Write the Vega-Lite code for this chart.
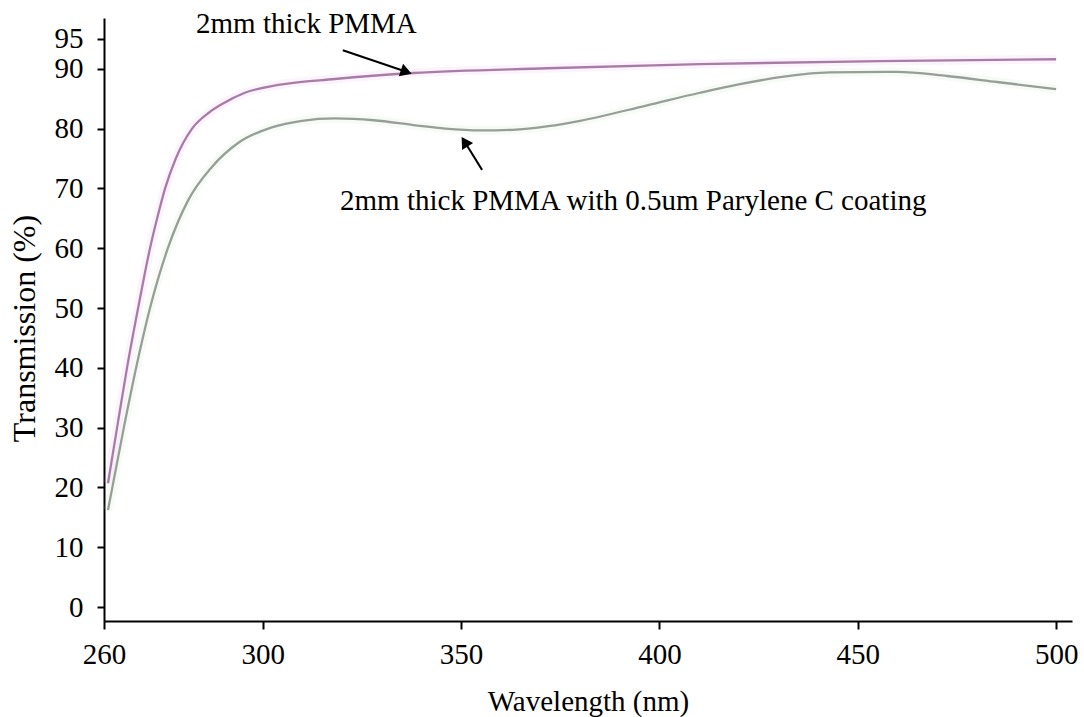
{
  "$schema": "https://vega.github.io/schema/vega-lite/v6.json",
  "width": 968,
  "height": 603,
  "autosize": {"type": "none"},
  "padding": {"left": 104, "top": 18, "right": 12, "bottom": 96},
  "background": "white",
  "config": {"view": {"stroke": null}, "font": "Liberation Serif, Times New Roman, serif"},
  "datasets": {
    "curves": [
      {"series": "2mm thick PMMA", "wavelength": 261.0, "transmission": 20.7},
      {"series": "2mm thick PMMA", "wavelength": 263.3, "transmission": 30.0},
      {"series": "2mm thick PMMA", "wavelength": 265.8, "transmission": 40.0},
      {"series": "2mm thick PMMA", "wavelength": 268.6, "transmission": 50.0},
      {"series": "2mm thick PMMA", "wavelength": 271.6, "transmission": 60.0},
      {"series": "2mm thick PMMA", "wavelength": 273.4, "transmission": 65.0},
      {"series": "2mm thick PMMA", "wavelength": 275.4, "transmission": 70.0},
      {"series": "2mm thick PMMA", "wavelength": 278.1, "transmission": 75.0},
      {"series": "2mm thick PMMA", "wavelength": 282.2, "transmission": 80.0},
      {"series": "2mm thick PMMA", "wavelength": 286.5, "transmission": 82.7},
      {"series": "2mm thick PMMA", "wavelength": 290.0, "transmission": 84.2},
      {"series": "2mm thick PMMA", "wavelength": 295.5, "transmission": 86.0},
      {"series": "2mm thick PMMA", "wavelength": 303.9, "transmission": 87.3},
      {"series": "2mm thick PMMA", "wavelength": 318.2, "transmission": 88.3},
      {"series": "2mm thick PMMA", "wavelength": 337.9, "transmission": 89.3},
      {"series": "2mm thick PMMA", "wavelength": 371.7, "transmission": 90.1},
      {"series": "2mm thick PMMA", "wavelength": 410.2, "transmission": 90.8},
      {"series": "2mm thick PMMA", "wavelength": 455.6, "transmission": 91.3},
      {"series": "2mm thick PMMA", "wavelength": 500.0, "transmission": 91.6},
      {"series": "Parylene C coated", "wavelength": 261.0, "transmission": 16.2},
      {"series": "Parylene C coated", "wavelength": 265.0, "transmission": 30.0},
      {"series": "Parylene C coated", "wavelength": 268.1, "transmission": 40.0},
      {"series": "Parylene C coated", "wavelength": 271.6, "transmission": 50.0},
      {"series": "Parylene C coated", "wavelength": 276.1, "transmission": 60.0},
      {"series": "Parylene C coated", "wavelength": 281.2, "transmission": 68.0},
      {"series": "Parylene C coated", "wavelength": 287.2, "transmission": 73.6},
      {"series": "Parylene C coated", "wavelength": 293.8, "transmission": 77.6},
      {"series": "Parylene C coated", "wavelength": 302.3, "transmission": 80.2},
      {"series": "Parylene C coated", "wavelength": 309.9, "transmission": 81.3},
      {"series": "Parylene C coated", "wavelength": 318.2, "transmission": 81.7},
      {"series": "Parylene C coated", "wavelength": 328.0, "transmission": 81.4},
      {"series": "Parylene C coated", "wavelength": 338.0, "transmission": 80.6},
      {"series": "Parylene C coated", "wavelength": 346.0, "transmission": 80.0},
      {"series": "Parylene C coated", "wavelength": 355.0, "transmission": 79.7},
      {"series": "Parylene C coated", "wavelength": 363.0, "transmission": 79.8},
      {"series": "Parylene C coated", "wavelength": 372.0, "transmission": 80.4},
      {"series": "Parylene C coated", "wavelength": 380.0, "transmission": 81.3},
      {"series": "Parylene C coated", "wavelength": 396.9, "transmission": 83.9},
      {"series": "Parylene C coated", "wavelength": 410.2, "transmission": 86.0},
      {"series": "Parylene C coated", "wavelength": 420.0, "transmission": 87.4},
      {"series": "Parylene C coated", "wavelength": 430.4, "transmission": 88.6},
      {"series": "Parylene C coated", "wavelength": 443.0, "transmission": 89.4},
      {"series": "Parylene C coated", "wavelength": 459.9, "transmission": 89.5},
      {"series": "Parylene C coated", "wavelength": 472.5, "transmission": 88.8},
      {"series": "Parylene C coated", "wavelength": 485.1, "transmission": 87.8},
      {"series": "Parylene C coated", "wavelength": 500.0, "transmission": 86.6}
    ],
    "labels": [
      {"text": "2mm thick PMMA", "wavelength": 283.2, "transmission": 96.0},
      {"text": "2mm thick PMMA with 0.5um Parylene C coating", "wavelength": 319.5, "transmission": 66.4}
    ],
    "arrows": [
      {"id": "a1", "wavelength": 320.2, "transmission": 93.1, "headWavelength": 336.2, "headTransmission": 89.5},
      {"id": "a2", "wavelength": 355.3, "transmission": 73.1, "headWavelength": 350.9, "headTransmission": 77.8}
    ]
  },
  "resolve": {"scale": {"color": "independent"}},
  "layer": [
    {
      "data": {"name": "curves"},
      "mark": {"type": "line", "strokeWidth": 9, "opacity": 0.12, "interpolate": "monotone"},
      "encoding": {
        "x": {
          "field": "wavelength", "type": "quantitative",
          "scale": {"domain": [260, 504], "nice": false, "zero": false},
          "axis": {
            "values": [260, 300, 350, 400, 450, 500],
            "title": "Wavelength (nm)",
            "grid": false,
            "domainColor": "black", "domainWidth": 2,
            "tickColor": "black", "tickWidth": 2, "tickSize": 8,
            "labelFont": "Liberation Serif, Times New Roman, serif", "labelFontSize": 29, "labelColor": "black",
            "labelPadding": 11, "labelFlush": false, "labelOverlap": false,
            "titleFont": "Liberation Serif, Times New Roman, serif", "titleFontSize": 29, "titleFontWeight": "normal",
            "titleColor": "black", "titlePadding": 18
          }
        },
        "y": {
          "field": "transmission", "type": "quantitative",
          "scale": {"domain": [-2.34, 98.5], "nice": false, "zero": false},
          "axis": {
            "values": [0, 10, 20, 30, 40, 50, 60, 70, 80, 90, 95],
            "title": "Transmission (%)",
            "grid": false,
            "domainColor": "black", "domainWidth": 2,
            "tickColor": "black", "tickWidth": 2, "tickSize": 7,
            "labelFont": "Liberation Serif, Times New Roman, serif", "labelFontSize": 29, "labelColor": "black",
            "labelPadding": 14, "labelFlush": false, "labelOverlap": false,
            "titleFont": "Liberation Serif, Times New Roman, serif", "titleFontSize": 32, "titleFontWeight": "normal",
            "titleColor": "black", "titlePadding": 13, "titleY": 310
          }
        },
        "color": {
          "field": "series", "type": "nominal",
          "scale": {"domain": ["2mm thick PMMA", "Parylene C coated"], "range": ["#e8a2e8", "#b2dcb2"]},
          "legend": null
        }
      }
    },
    {
      "data": {"name": "curves"},
      "mark": {"type": "line", "strokeWidth": 2.3, "interpolate": "monotone"},
      "encoding": {
        "x": {"field": "wavelength", "type": "quantitative"},
        "y": {"field": "transmission", "type": "quantitative"},
        "color": {
          "field": "series", "type": "nominal",
          "scale": {"domain": ["2mm thick PMMA", "Parylene C coated"], "range": ["#a97ca7", "#979d97"]},
          "legend": null
        }
      }
    },
    {
      "data": {"name": "arrows"},
      "mark": {"type": "rule", "color": "black", "strokeWidth": 2},
      "encoding": {
        "x": {"field": "wavelength", "type": "quantitative"},
        "y": {"field": "transmission", "type": "quantitative"},
        "x2": {"field": "headWavelength"},
        "y2": {"field": "headTransmission"}
      }
    },
    {
      "data": {"name": "arrows"},
      "transform": [{"filter": "datum.id === 'a1'"}],
      "mark": {"type": "point", "shape": "triangle-right", "filled": true, "color": "black", "opacity": 1, "size": 170, "angle": 19},
      "encoding": {
        "x": {"field": "headWavelength", "type": "quantitative"},
        "y": {"field": "headTransmission", "type": "quantitative"}
      }
    },
    {
      "data": {"name": "arrows"},
      "transform": [{"filter": "datum.id === 'a2'"}],
      "mark": {"type": "point", "shape": "triangle-right", "filled": true, "color": "black", "opacity": 1, "size": 170, "angle": 238},
      "encoding": {
        "x": {"field": "headWavelength", "type": "quantitative"},
        "y": {"field": "headTransmission", "type": "quantitative"}
      }
    },
    {
      "data": {"name": "labels"},
      "mark": {"type": "text", "align": "left", "baseline": "alphabetic", "font": "Liberation Serif, Times New Roman, serif", "fontSize": 29, "color": "black"},
      "encoding": {
        "x": {"field": "wavelength", "type": "quantitative"},
        "y": {"field": "transmission", "type": "quantitative"},
        "text": {"field": "text"}
      }
    }
  ]
}
